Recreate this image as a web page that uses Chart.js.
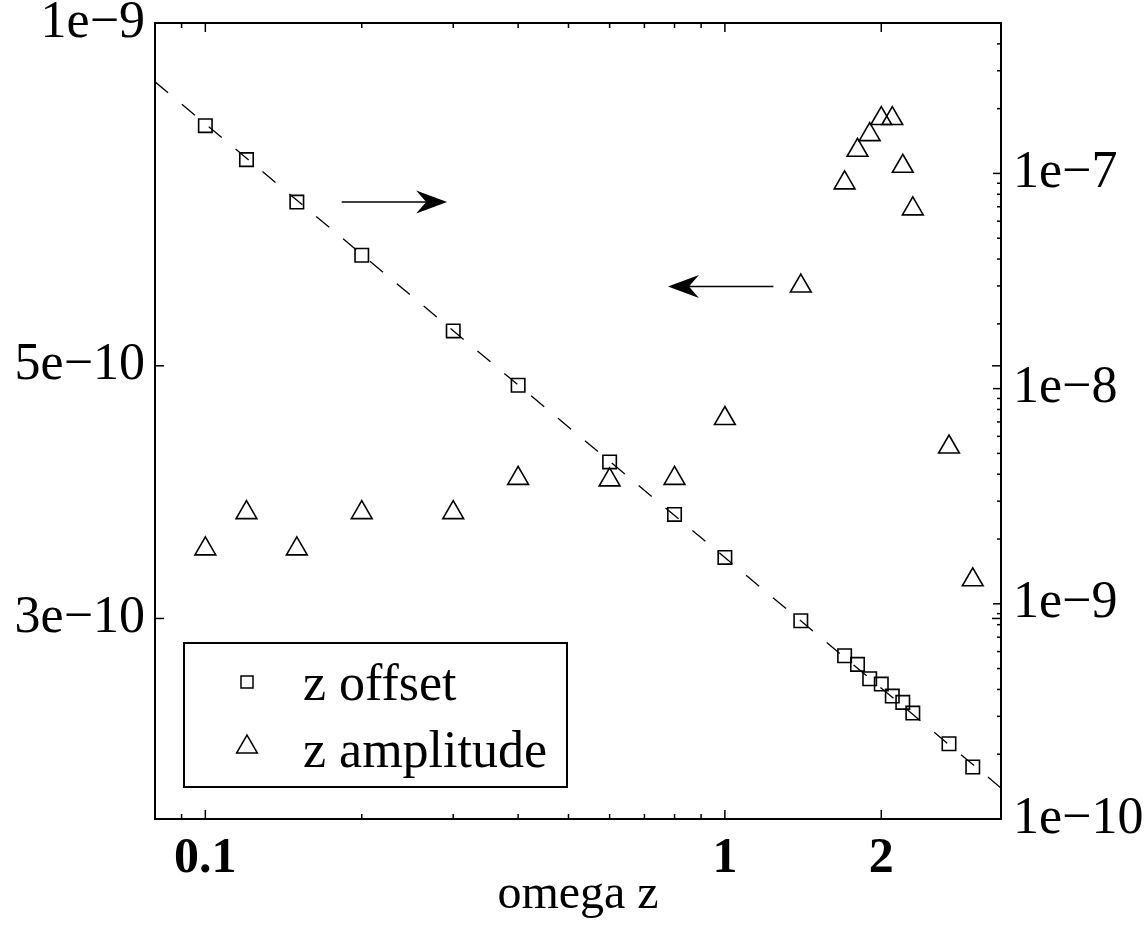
<!DOCTYPE html>
<html>
<head>
<meta charset="utf-8">
<script src="https://cdn.jsdelivr.net/npm/chart.js@4.4.1/dist/chart.umd.min.js"></script>
<style>
  html, body { margin: 0; padding: 0; background: #fff; }
  canvas { display: block; }
</style>
</head>
<body>
<canvas id="chart" width="1145" height="926" style="width:1145px;height:926px"></canvas>
<script>
// Driving frequency and the two measured responses
const omega      = [0.1, 0.12, 0.15, 0.2, 0.3, 0.4, 0.6, 0.8, 1.0, 1.4, 1.7, 1.8, 1.9, 2.0, 2.1, 2.2, 2.3, 2.7, 3.0];
const zOffset    = [1.667e-7, 1.159e-7, 7.36e-8, 4.165e-8, 1.854e-8, 1.037e-8, 4.565e-9, 2.602e-9, 1.643e-9,
                    8.34e-10, 5.735e-10, 5.23e-10, 4.485e-10, 4.236e-10, 3.726e-10, 3.483e-10, 3.107e-10, 2.237e-10, 1.744e-10];
const zAmplitude = [3.453e-10, 3.716e-10, 3.453e-10, 3.716e-10, 3.716e-10, 3.982e-10, 3.97e-10, 3.982e-10, 4.495e-10,
                    5.875e-10, 7.238e-10, 7.731e-10, 7.98e-10, 8.243e-10, 8.243e-10, 7.485e-10, 6.867e-10, 4.243e-10, 3.244e-10];

// Power-law guide through the offsets (~ omega^-2)
const fitOmega  = [0.08, 3.4];
const fitOffset = [2.665e-7, 1.393e-10];

// Axis ticks
const xTickValues     = [0.1, 1, 2];
const xTickLabels     = ['0.1', '1', '2'];
const xMinorTicks     = [0.09, 0.2, 0.3, 0.4, 0.5, 0.6, 0.7, 0.8, 0.9];
const leftTickValues  = [3e-10, 5e-10, 1e-9];
const leftTickLabels  = ['3e\u221210', '5e\u221210', '1e\u22129'];
const rightTickValues = [1e-10, 1e-9, 1e-8, 1e-7];
const rightTickLabels = ['1e\u221210', '1e\u22129', '1e\u22128', '1e\u22127'];

// Arrows pointing each series to its axis
const arrowTailOmega = [0.183, 1.24];
const arrowHeadOmega = [0.292, 0.777];
const arrowLevel     = [7.36e-8, 5.87e-10];
const arrowAxis      = ['y1', 'y'];

const SERIF = '"Liberation Serif", "Times New Roman", "DejaVu Serif", serif';
Chart.defaults.font.family = SERIF;
Chart.defaults.color = '#000';

function squeezeAxis(size, key) {
  return (s) => {
    s[key] = size;
    s.paddingLeft = 0; s.paddingRight = 0; s.paddingTop = 0; s.paddingBottom = 0;
  };
}

function markerPath(ctx, style, x, y, r) {
  ctx.beginPath();
  if (style === 'rect') {
    const h = Math.SQRT1_2 * r;
    ctx.rect(x - h, y - h, 2 * h, 2 * h);
  } else {
    let a = 0;
    ctx.moveTo(x + Math.sin(a) * r, y - Math.cos(a) * r);
    a += 2 * Math.PI / 3;
    ctx.lineTo(x + Math.sin(a) * r, y - Math.cos(a) * r);
    a += 2 * Math.PI / 3;
    ctx.lineTo(x + Math.sin(a) * r, y - Math.cos(a) * r);
    ctx.closePath();
  }
}

// Box frame with inward tick marks on all four sides
const frameTicks = {
  id: 'frameTicks',
  afterDatasetsDraw(chart) {
    const { ctx, chartArea: a, scales } = chart;
    const { x, y, y1 } = scales;
    ctx.save();
    ctx.strokeStyle = '#000';
    ctx.lineWidth = 1.5;
    const seg = (x0, y0, x1, y1_) => { ctx.beginPath(); ctx.moveTo(x0, y0); ctx.lineTo(x1, y1_); ctx.stroke(); };
    xTickValues.forEach(v => {
      const p = x.getPixelForValue(v);
      seg(p, a.bottom, p, a.bottom - 9); seg(p, a.top, p, a.top + 9);
    });
    xMinorTicks.forEach(v => {
      const p = x.getPixelForValue(v);
      seg(p, a.bottom, p, a.bottom - 5); seg(p, a.top, p, a.top + 5);
    });
    leftTickValues.forEach(v => {
      const p = y.getPixelForValue(v);
      seg(a.left, p, a.left + 9, p); seg(a.right, p, a.right - 9, p);
    });
    rightTickValues.forEach(v => {
      const p = y1.getPixelForValue(v);
      seg(a.right, p, a.right - 8, p);
    });
    for (let e = -10; e <= -7; e++) {
      for (let k = 2; k <= 9; k++) {
        const v = k * Math.pow(10, e);
        if (v > y1.max * 1.0001) continue;
        const p = y1.getPixelForValue(v);
        seg(a.right, p, a.right - 4, p);
      }
    }
    ctx.lineWidth = 2;
    ctx.strokeRect(a.left, a.top, a.right - a.left, a.bottom - a.top);
    ctx.restore();
  }
};

// Arrows drawn in data coordinates
const arrows = {
  id: 'arrows',
  afterDatasetsDraw(chart) {
    const { ctx, scales } = chart;
    ctx.save();
    ctx.strokeStyle = '#000';
    ctx.fillStyle = '#000';
    ctx.lineWidth = 1.5;
    arrowTailOmega.forEach((w, i) => {
      const ys = scales[arrowAxis[i]];
      const x0 = scales.x.getPixelForValue(w);
      const x1 = scales.x.getPixelForValue(arrowHeadOmega[i]);
      const py = ys.getPixelForValue(arrowLevel[i]);
      const dir = Math.sign(x1 - x0);
      ctx.beginPath();
      ctx.moveTo(x0, py);
      ctx.lineTo(x1 - dir * 20, py);
      ctx.stroke();
      ctx.beginPath();
      ctx.moveTo(x1, py);
      ctx.lineTo(x1 - dir * 31, py - 11.5);
      ctx.lineTo(x1 - dir * 21, py);
      ctx.lineTo(x1 - dir * 31, py + 11.5);
      ctx.closePath();
      ctx.fill();
    });
    ctx.restore();
  }
};

// Boxed legend inside the lower-left part of the plot
const boxLegend = {
  id: 'boxLegend',
  afterDraw(chart) {
    const { ctx } = chart;
    const items = chart.data.datasets.filter(d => d.inLegend);
    ctx.save();
    ctx.fillStyle = '#fff';
    ctx.fillRect(184, 643, 383, 144);
    ctx.strokeStyle = '#000';
    ctx.lineWidth = 2;
    ctx.strokeRect(184, 643, 383, 144);
    ctx.font = '52px ' + SERIF;
    ctx.textBaseline = 'alphabetic';
    ctx.textAlign = 'left';
    ctx.fillStyle = '#000';
    const markerY = [682, 747];
    const baseY = [700, 767];
    items.forEach((d, i) => {
      ctx.lineWidth = 1.5;
      markerPath(ctx, d.pointStyle, 247, markerY[i], d.pointStyle === 'rect' ? 8.5 : 12);
      ctx.stroke();
      ctx.fillText(d.label, 303, baseY[i]);
    });
    ctx.restore();
  }
};

new Chart(document.getElementById('chart'), {
  type: 'scatter',
  data: {
    datasets: [
      {
        label: 'z offset',
        inLegend: true,
        data: omega.map((w, i) => ({ x: w, y: zOffset[i] })),
        yAxisID: 'y1',
        pointStyle: 'rect',
        pointRadius: 9.5,
        borderColor: '#000',
        backgroundColor: 'rgba(0,0,0,0)',
        borderWidth: 1.6,
        showLine: false
      },
      {
        label: 'z amplitude',
        inLegend: true,
        data: omega.map((w, i) => ({ x: w, y: zAmplitude[i] })),
        yAxisID: 'y',
        pointStyle: 'triangle',
        pointRadius: 12,
        borderColor: '#000',
        backgroundColor: 'rgba(0,0,0,0)',
        borderWidth: 1.6,
        showLine: false
      },
      {
        label: 'fit',
        inLegend: false,
        data: fitOmega.map((w, i) => ({ x: w, y: fitOffset[i] })),
        yAxisID: 'y1',
        showLine: true,
        borderColor: '#000',
        borderWidth: 1.3,
        borderDash: [17, 18],
        pointRadius: 0,
        fill: false
      }
    ]
  },
  options: {
    responsive: false,
    devicePixelRatio: 1,
    animation: false,
    layout: { padding: { top: 23, left: 0, right: 0, bottom: 0 } },
    plugins: { legend: { display: false }, tooltip: { enabled: false } },
    scales: {
      x: {
        type: 'logarithmic',
        position: 'bottom',
        min: 0.08,
        max: 3.4,
        bounds: 'data',
        grid: { display: false, drawTicks: false },
        border: { display: false },
        afterBuildTicks: s => { s.ticks = xTickValues.map(v => ({ value: v })); },
        afterFit: squeezeAxis(107, 'height'),
        ticks: {
          autoSkip: false,
          maxRotation: 0,
          minRotation: 0,
          padding: 10,
          color: '#000',
          font: { size: 50, weight: 'bold', family: SERIF },
          callback: (v, i) => xTickLabels[i]
        },
        title: {
          display: true,
          text: 'omega z',
          color: '#000',
          font: { size: 48, family: SERIF },
          padding: { top: 0, bottom: 2 }
        }
      },
      y: {
        type: 'logarithmic',
        position: 'left',
        min: 2e-10,
        max: 1e-9,
        bounds: 'data',
        grid: { display: false, drawTicks: false },
        border: { display: false },
        afterBuildTicks: s => { s.ticks = leftTickValues.map(v => ({ value: v })); },
        afterFit: squeezeAxis(155, 'width'),
        ticks: {
          autoSkip: false,
          padding: 10,
          color: '#000',
          font: { size: 52, family: SERIF },
          callback: (v, i) => leftTickLabels[i]
        }
      },
      y1: {
        type: 'logarithmic',
        position: 'right',
        min: 1e-10,
        max: 5e-7,
        bounds: 'data',
        grid: { display: false, drawTicks: false },
        border: { display: false },
        afterBuildTicks: s => { s.ticks = rightTickValues.map(v => ({ value: v })); },
        afterFit: squeezeAxis(144, 'width'),
        ticks: {
          autoSkip: false,
          padding: 12,
          color: '#000',
          font: { size: 52, family: SERIF },
          callback: (v, i) => rightTickLabels[i]
        }
      }
    }
  },
  plugins: [frameTicks, arrows, boxLegend]
});
</script>
</body>
</html>
